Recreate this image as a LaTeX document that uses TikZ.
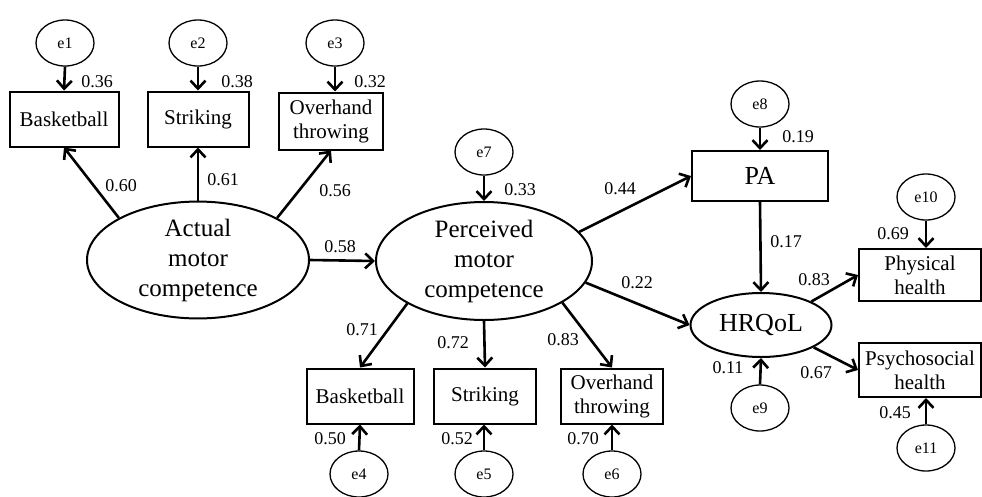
\documentclass[tikz,border=0pt]{standalone}
\usepackage{fontspec}
\setmainfont{Liberation Serif}
\usetikzlibrary{arrows.meta,shapes.geometric}
\begin{document}
\begin{tikzpicture}[x=1pt,y=-1pt,
  err/.style={draw,ellipse,line width=1.3pt,minimum width=58pt,minimum height=46pt,inner sep=0pt,font=\fontsize{16}{18}\selectfont},
  obs/.style={draw,rectangle,line width=2pt,inner sep=0pt,align=center,font=\fontsize{21}{24}\selectfont},
  lat/.style={draw,ellipse,line width=2pt,inner sep=0pt,align=center,font=\fontsize{25}{30}\selectfont},
  coef/.style={inner sep=0pt,font=\fontsize{18}{20}\selectfont},
  arr/.style={line width=2.6pt,-{Straight Barb[length=8pt,width=15pt]}}
]
\useasboundingbox (0,0) rectangle (982,496);
% error terms
\node[err] (e1) at (65,43) {e1};
\node[err] (e2) at (198,43) {e2};
\node[err] (e3) at (335,43) {e3};
\node[err] (e7) at (484,152) {e7};
\node[err] (e4) at (359,474) {e4};
\node[err] (e5) at (484,474) {e5};
\node[err] (e6) at (612,474) {e6};
\node[err] (e8) at (760,104) {e8};
\node[err] (e9) at (760,408) {e9};
\node[err] (e10) at (926,197) {e10};
\node[err] (e11) at (926,448) {e11};
% observed
\node[obs,minimum width=109pt,minimum height=55pt] (b1) at (64,119) {Basketball};
\node[obs,minimum width=101pt,minimum height=55pt] (s1) at (198,119) {Striking};
\node[obs,minimum width=104pt,minimum height=57pt] (o1) at (331,121) {Overhand\\throwing};
\node[obs,minimum width=107pt,minimum height=55pt] (b2) at (360,396) {Basketball};
\node[obs,minimum width=102pt,minimum height=55pt] (s2) at (485,396) {Striking};
\node[obs,minimum width=102pt,minimum height=55pt] (o2) at (612,396) {Overhand\\throwing};
\node[obs,minimum width=136pt,minimum height=50pt,font=\fontsize{26}{28}\selectfont] (PA) at (760,176) {PA};
\node[obs,minimum width=122pt,minimum height=52pt] (ph) at (920,275) {Physical\\health};
\node[obs,minimum width=122pt,minimum height=54pt] (ps) at (920,370) {Psychosocial\\health};
% latent
\node[lat,minimum width=222pt,minimum height=114pt] (A) at (198,260) {Actual\\motor\\competence};
\node[lat,minimum width=216pt,minimum height=118pt] (P) at (484,261) {Perceived\\motor\\competence};
\node[lat,minimum width=141pt,minimum height=64pt,font=\fontsize{26}{28}\selectfont] (H) at (761,325) {HRQoL};
% error arrows
\draw[arr] (e1.south) -- (b1.north);
\draw[arr] (e2.south) -- (s1.north);
\draw[arr] (e3.south) -- (e3.south |- o1.north);
\draw[arr] (e7.south) -- (P.north);
\draw[arr] (e4.north) -- (b2.south);
\draw[arr] (e5.north) -- (e5.north |- s2.south);
\draw[arr] (e6.north) -- (o2.south);
\draw[arr] (e8.south) -- (PA.north);
\draw[arr] (e9.north) -- (H.south);
\draw[arr] (e10.south) -- (e10.south |- ph.north);
\draw[arr] (e11.north) -- (e11.north |- ps.south);
% structural arrows
\draw[arr] (A.152) -- (b1.south);
\draw[arr] (A.north) -- (s1.south);
\draw[arr] (A.28) -- (o1.south);
\draw[arr] (A.east) -- (P.west);
\draw[arr] (P.17) -- (PA.west);
\draw[arr] (P.-12) -- (H.west);
\draw[arr] (P.209) -- (b2.north);
\draw[arr] (P.south) -- (s2.north);
\draw[arr] (P.-28) -- (o2.north);
\draw[arr] (PA.south) -- (H.north);
\draw[arr] (H.25) -- (ph.west);
\draw[arr] (H.-23) -- (ps.west);
% coefficients
\node[coef] (c1) at (97,82) {0.36};
\node[coef] (c2) at (237,82) {0.38};
\node[coef] (c3) at (370,82) {0.32};
\node[coef] (c4) at (121,186) {0.60};
\node[coef] (c5) at (223,180) {0.61};
\node[coef] (c6) at (335,191) {0.56};
\node[coef] (c7) at (340,247) {0.58};
\node[coef] (c8) at (520,190) {0.33};
\node[coef] (c9) at (620,189) {0.44};
\node[coef] (c10) at (637,283) {0.22};
\node[coef] (c11) at (362,330) {0.71};
\node[coef] (c12) at (453,343) {0.72};
\node[coef] (c13) at (563,340) {0.83};
\node[coef] (c14) at (330,439) {0.50};
\node[coef] (c15) at (457,439) {0.52};
\node[coef] (c16) at (583,439) {0.70};
\node[coef] (c17) at (798,137) {0.19};
\node[coef] (c18) at (786,242) {0.17};
\node[coef] (c19) at (893,234) {0.69};
\node[coef] (c20) at (814,280) {0.83};
\node[coef] (c21) at (728,368) {0.11};
\node[coef] (c22) at (816,373) {0.67};
\node[coef] (c23) at (895,413) {0.45};
\end{tikzpicture}
\end{document}
